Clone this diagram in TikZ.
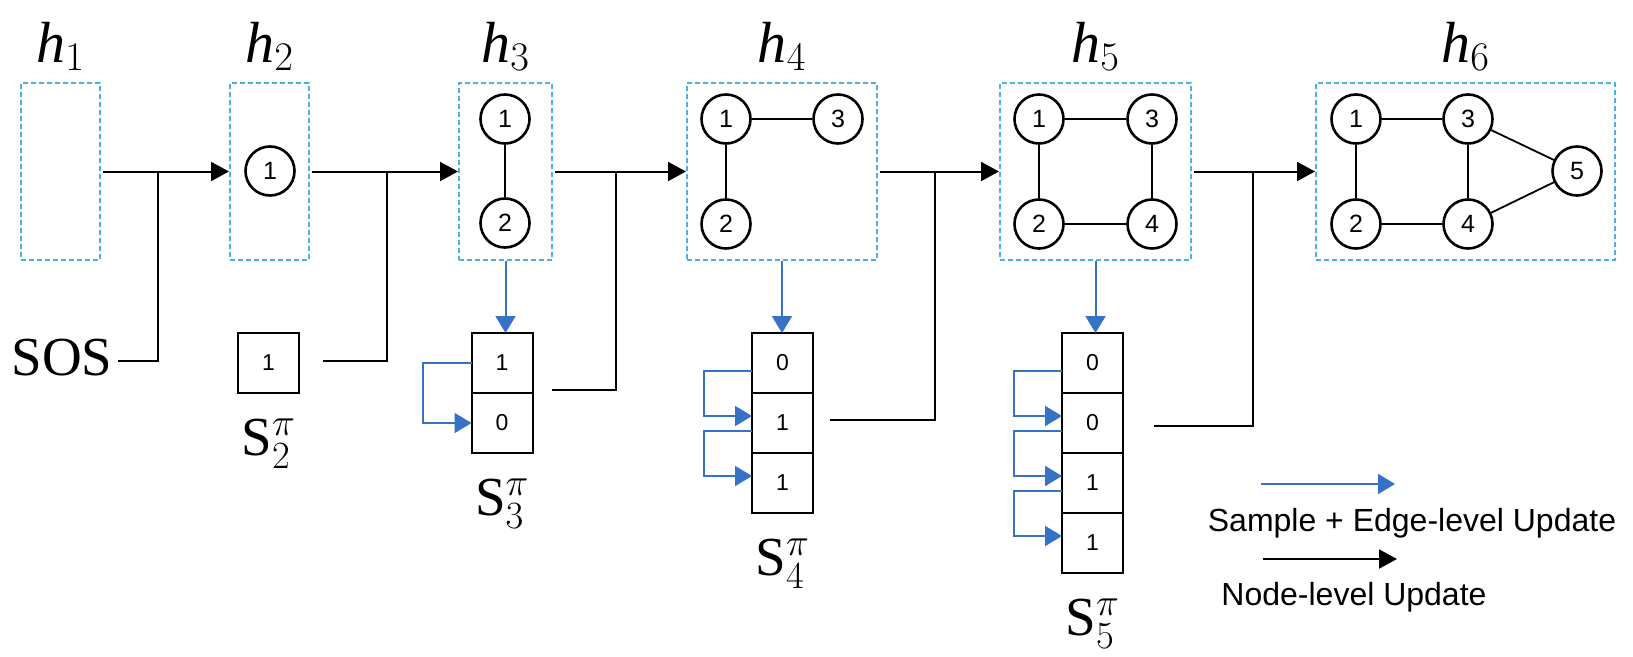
\RequirePackage{fix-cm}
\documentclass[tikz,border=0pt]{standalone}
\usepackage{amsmath}
\usepackage{fontspec}
\setmainfont{Liberation Serif}
\setsansfont{Liberation Sans}
\usetikzlibrary{arrows.meta,positioning}
\definecolor{boxblue}{RGB}{78,176,228}
\definecolor{edgeblue}{RGB}{54,114,198}

\begin{document}
\begin{tikzpicture}[x=1pt,y=-1pt,
	hbox/.style={draw=boxblue,line width=2pt,dash pattern=on 5pt off 3pt,minimum height=177pt,inner sep=0pt},
	vert/.style={circle,draw,line width=2.6pt,minimum size=49pt,inner sep=0pt,font=\sffamily\fontsize{25}{25}\selectfont},
	cell/.style={draw,line width=2pt,minimum width=61pt,minimum height=60pt,inner sep=0pt,outer sep=0pt,font=\sffamily\fontsize{23}{23}\selectfont},
	hlab/.style={anchor=base,inner sep=0pt,font=\fontsize{58}{62}\selectfont},
	slab/.style={anchor=base,inner sep=0pt,font=\fontsize{55}{60}\selectfont},
	legtxt/.style={anchor=base,inner sep=0pt,font=\sffamily\fontsize{32}{36}\selectfont},
	link/.style={line width=1.8pt},
	flow/.style={line width=2pt},
	nodeupd/.style={flow,-{Triangle[length=18pt,width=19pt]}},
	edgeupd/.style={color=edgeblue,line width=2pt,-{Triangle[length=17pt,width=20pt]}}
	]
	\useasboundingbox (0,0) rectangle (1633,656);

	\node[hbox,minimum width=79pt] (box1) at (60.5,171.5) {};
	\node[hbox,minimum width=79pt] (box2) at (269.5,171.5) {};
	\node[hbox,minimum width=93pt] (box3) at (505.5,171.5) {};
	\node[hbox,minimum width=190pt] (box4) at (782,171.5) {};
	\node[hbox,minimum width=191pt] (box5) at (1095.5,171.5) {};
	\node[hbox,minimum width=299pt] (box6) at (1465.5,171.5) {};

	\node[hlab] (lab1) at (box1 |- 0,62) {$\mathit{h}_1$};
	\node[hlab] (lab2) at (box2 |- 0,62) {$\mathit{h}_2$};
	\node[hlab] (lab3) at (box3 |- 0,62) {$\mathit{h}_3$};
	\node[hlab] (lab4) at (box4 |- 0,62) {$\mathit{h}_4$};
	\node[hlab] (lab5) at (box5 |- 0,62) {$\mathit{h}_5$};
	\node[hlab] (lab6) at (box6 |- 0,62) {$\mathit{h}_6$};

	\node[vert] (n21) at (270,171) {1};

	\node[vert] (n31) at (505,119) {1};
	\node[vert] (n32) at (505,223) {2};
	\draw[link] (n31) -- (n32);

	\node[vert] (n41) at (726,119) {1};
	\node[vert] (n42) at (726,224) {2};
	\node[vert] (n43) at (838,119) {3};
	\draw[link] (n41) -- (n43);
	\draw[link] (n41) -- (n42);

	\node[vert] (n51) at (1039,119) {1};
	\node[vert] (n52) at (1039,224) {2};
	\node[vert] (n53) at (1152,119) {3};
	\node[vert] (n54) at (1152,224) {4};
	\draw[link] (n51) -- (n53) -- (n54) -- (n52) -- (n51);

	\node[vert] (n61) at (1356,119) {1};
	\node[vert] (n62) at (1356,224) {2};
	\node[vert] (n63) at (1468,119) {3};
	\node[vert] (n64) at (1468,224) {4};
	\node[vert] (n65) at (1577,171) {5};
	\draw[link] (n61) -- (n63) -- (n64) -- (n62) -- (n61);
	\draw[link] (n63) -- (n65) -- (n64);

	\node[slab] (sos) at (62,375) {SOS};

	\node[cell] (c21) at (268.5,363) {1};
	\node[slab] (s2) at ([yshift=-62pt]c21.south) {$\mathrm{S}^{\pi}_{2}$};

	\node[cell] (c31) at (502,363) {1};
	\node[cell,below=0pt of c31] (c32) {0};
	\node[slab] (s3) at ([yshift=-62pt]c32.south) {$\mathrm{S}^{\pi}_{3}$};

	\node[cell] (c41) at (782.5,363) {0};
	\node[cell,below=0pt of c41] (c42) {1};
	\node[cell,below=0pt of c42] (c43) {1};
	\node[slab] (s4) at ([yshift=-62pt]c43.south) {$\mathrm{S}^{\pi}_{4}$};

	\node[cell] (c51) at (1092.5,363) {0};
	\node[cell,below=0pt of c51] (c52) {0};
	\node[cell,below=0pt of c52] (c53) {1};
	\node[cell,below=0pt of c53] (c54) {1};
	\node[slab] (s5) at ([yshift=-62pt]c54.south) {$\mathrm{S}^{\pi}_{5}$};

	\coordinate (o1) at (118,361);
	\coordinate (o2) at (323,361);
	\coordinate (o3) at (552,390);
	\coordinate (o4) at (830,420);
	\coordinate (o5) at (1154,426);
	\coordinate (j1) at (158,171.5);
	\coordinate (j2) at (387,171.5);
	\coordinate (j3) at (616,171.5);
	\coordinate (j4) at (935,171.5);
	\coordinate (j5) at (1253,171.5);

	\draw[nodeupd,shorten <=2pt] (box1.east) -- (box2.west);
	\draw[nodeupd,shorten <=2pt] (box2.east) -- (box3.west);
	\draw[nodeupd,shorten <=2pt] (box3.east) -- (box4.west);
	\draw[nodeupd,shorten <=2pt] (box4.east) -- (box5.west);
	\draw[nodeupd,shorten <=2pt] (box5.east) -- (box6.west);
	\draw[flow] (o1) -| (j1);
	\draw[flow] (o2) -| (j2);
	\draw[flow] (o3) -| (j3);
	\draw[flow] (o4) -| (j4);
	\draw[flow] (o5) -| (j5);

	\draw[edgeupd] (box3.south) -- (box3.south |- c31.north);
	\draw[edgeupd] (box4.south) -- (box4.south |- c41.north);
	\draw[edgeupd] (box5.south) -- (box5.south |- c51.north);

	\draw[edgeupd] (c31.west) -- ++(-49,0) |- (c32.west);
	\draw[edgeupd] ([yshift=-8pt]c41.west) -- ++(-48,0) |- ([yshift=7pt]c42.west);
	\draw[edgeupd] ([yshift=-8pt]c42.west) -- ++(-48,0) |- ([yshift=7pt]c43.west);
	\draw[edgeupd] ([yshift=-8pt]c51.west) -- ++(-48,0) |- ([yshift=7pt]c52.west);
	\draw[edgeupd] ([yshift=-8pt]c52.west) -- ++(-48,0) |- ([yshift=7pt]c53.west);
	\draw[edgeupd] ([yshift=-8pt]c53.west) -- ++(-48,0) |- ([yshift=7pt]c54.west);

	\coordinate (ls1) at (1261,484);
	\coordinate (le1) at (1395,484);
	\coordinate (ls2) at (1263,559);
	\coordinate (le2) at (1397,559);
	\draw[edgeupd] (ls1) -- (le1);
	\node[legtxt] (leg1) at (1412,531) {Sample + Edge-level Update};
	\draw[nodeupd] (ls2) -- (le2);
	\node[legtxt] (leg2) at (1354,605) {Node-level Update};
\end{tikzpicture}
\end{document}
